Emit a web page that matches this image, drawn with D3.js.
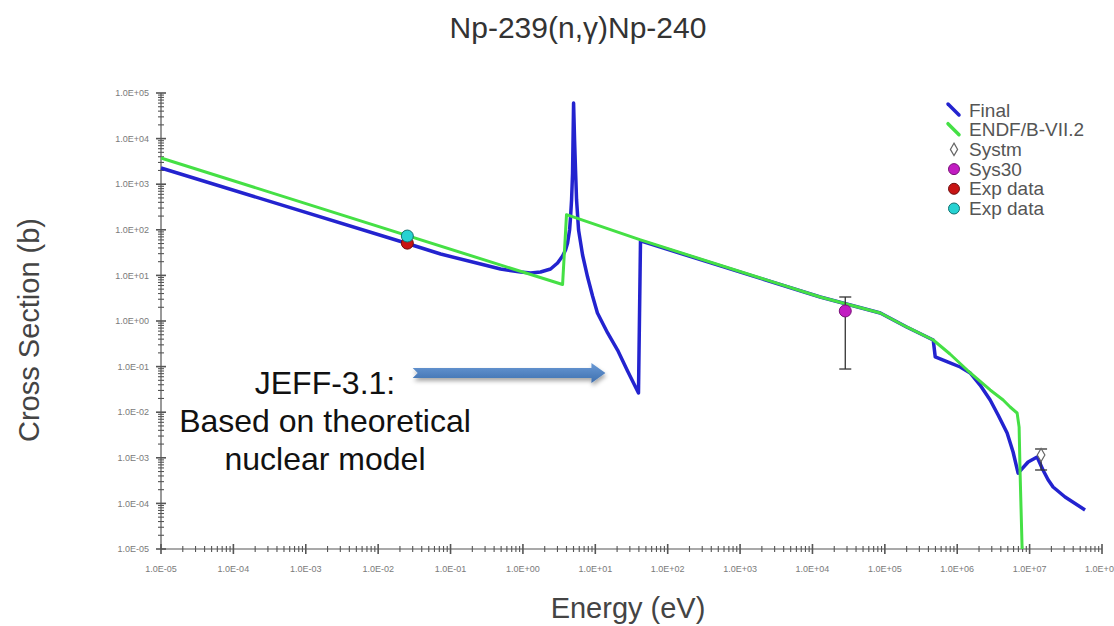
<!DOCTYPE html>
<html>
  <head>
    <meta charset="utf-8">
    <script src="https://d3js.org/d3.v7.min.js"></script>
    <title>Np-239(n,g)Np-240</title>
    <style>
      body { margin: 0px; background: #fff; }
      .tick-label { fill: #7a7a7a; font-size: 9px; font-family: "Liberation Sans", Arial, sans-serif; }
      .axis-label { fill: #444; font-size: 29px; font-family: "Liberation Sans", Arial, sans-serif; }
      .title { fill: #333; font-size: 30px; font-family: "Liberation Sans", Arial, sans-serif; }
      .legend text { fill: #555; font-size: 19px; font-family: "Liberation Sans", Arial, sans-serif; }
      .note { fill: #111; font-size: 32px; font-family: "Liberation Sans", Arial, sans-serif; }
    </style>
  </head>
  <body>
    <svg width="1114" height="626"></svg>
    <script>
      // Final evaluation (blue)
      const finalE  = [1e-5, 0.024, 0.073, 0.26, 0.49, 0.93, 1.28, 1.75, 2.41, 3.01, 3.53, 3.88, 4.14, 4.41, 4.55, 4.70, 4.85, 5.01,
                       5.17, 5.33, 5.51, 5.87, 6.67, 7.82, 9.16, 10.7, 14.8, 20.3, 27.9, 39.5,
                       42.1, 1.28e4, 8.65e4, 2.0e5, 4.66e5, 4.97e5, 7.5e5, 1.10e6, 1.51e6, 2.07e6, 2.85e6, 3.67e6, 4.89e6, 5.91e6, 6.93e6,
                       9.53e6, 1.27e7, 1.53e7, 1.80e7, 2.11e7, 3.09e7, 5.83e7];
      const finalXS = [2265, 51.4, 29.4, 17.8, 13.8, 11.9, 11.3, 11.9, 13.8, 18.7, 26.6, 36, 51.4, 99, 190, 451, 1762, 6.0e4,
                       9300, 2040, 451, 99, 28, 9.2, 3.53, 1.50, 0.546, 0.231, 0.080, 0.0264,
                       57, 3.36, 1.5, 0.74, 0.383, 0.163, 0.125, 0.098, 0.0724, 0.0394, 0.0185, 0.0087, 0.0035, 1.34e-3, 4.6e-4,
                       8.1e-4, 1.04e-3, 5.4e-4, 3.3e-4, 2.29e-4, 1.38e-4, 7.17e-5];

      // ENDF/B-VII.2 (green)
      const endfE  = [1e-5, 3.53, 4.0, 42.1, 1.28e4, 8.65e4, 2.0e5, 4.66e5, 7.94e5, 1.37e6, 2.85e6, 4.31e6, 5.38e6, 6.72e6, 7.16e6, 7.39e6, 7.88e6];
      const endfXS = [3760, 6.3, 215, 60, 3.36, 1.5, 0.74, 0.383, 0.189, 0.0841, 0.0307, 0.0185, 0.0130, 0.0096, 0.0047, 4.6e-4, 1e-5];

      // point data: [energy, xs, errLow, errHigh]
      const systm = [[1.44e7, 1.15e-3, 5.4e-4, 1.56e-3]];
      const sys30 = [[2.84e4, 1.66, 0.0885, 3.36]];
      const expRed = [[0.0253, 51]];
      const expCyan = [[0.0253, 73]];

      const legendLabels = ['Final', 'ENDF/B-VII.2', 'Systm', 'Sys30', 'Exp data', 'Exp data'];
      const noteLines = ['JEFF-3.1:', 'Based on theoretical', 'nuclear model'];
      const arrowFrom = [0.030, 0.0724], arrowTo = [13.8, 0.0724];

      const svg = d3.select('svg');
      const blue = '#2323cf', green = '#45e045';

      const x = d3.scaleLog().domain([1e-5, 1e8]).range([161, 1102]);
      const y = d3.scaleLog().domain([1e-5, 1e5]).range([549, 93]);

      const fmt = d => {
        const e = Math.round(Math.log10(d));
        return '1.0E' + (e < 0 ? '-' : '+') + String(Math.abs(e)).padStart(2, '0');
      };
      const decadeTicks = (lo, hi) => {
        const t = [];
        for (let e = lo; e < hi; e++) for (let m = 1; m < 10; m++) t.push({ v: m * Math.pow(10, e), major: m === 1 });
        t.push({ v: Math.pow(10, hi), major: true });
        return t;
      };

      // axes
      const axes = svg.append('g').attr('stroke', '#555');
      axes.append('line').attr('x1', x(1e-5)).attr('x2', x(1e-5)).attr('y1', y(1e5)).attr('y2', y(1e-5)).attr('stroke-width', 1.2);
      axes.append('line').attr('x1', x(1e-5)).attr('x2', x(1e8)).attr('y1', y(1e-5)).attr('y2', y(1e-5)).attr('stroke-width', 1.2);

      const yt = decadeTicks(-5, 5);
      axes.selectAll('.ytick').data(yt).join('line')
          .attr('x1', d => x(1e-5) - (d.major ? 5 : 3))
          .attr('x2', d => x(1e-5) + (d.major ? 5 : 3))
          .attr('y1', d => y(d.v)).attr('y2', d => y(d.v))
          .attr('stroke-width', d => d.major ? 1.6 : 1.1);
      svg.selectAll('.ylab').data(yt.filter(d => d.major)).join('text')
          .attr('class', 'tick-label')
          .attr('x', x(1e-5) - 12).attr('y', d => y(d.v)).attr('dy', '0.35em')
          .attr('text-anchor', 'end').text(d => fmt(d.v));

      const xt = decadeTicks(-5, 8);
      axes.selectAll('.xtick').data(xt).join('line')
          .attr('x1', d => x(d.v)).attr('x2', d => x(d.v))
          .attr('y1', d => y(1e-5) - (d.major ? 5 : 3))
          .attr('y2', d => y(1e-5) + (d.major ? 5 : 3))
          .attr('stroke-width', d => d.major ? 1.6 : 1.1);
      svg.selectAll('.xlab').data(xt.filter(d => d.major)).join('text')
          .attr('class', 'tick-label')
          .attr('x', d => x(d.v)).attr('y', y(1e-5) + 23)
          .attr('text-anchor', 'middle').text(d => fmt(d.v));

      // curves
      const line = d3.line().x(d => x(d[0])).y(d => y(d[1]));
      svg.append('path').datum(d3.zip(finalE, finalXS))
          .attr('d', line)
          .attr('fill', 'none').attr('stroke', blue).attr('stroke-width', 3.5).attr('stroke-linejoin', 'round');
      svg.append('path').datum(d3.zip(endfE, endfXS))
          .attr('d', line)
          .attr('fill', 'none').attr('stroke', green).attr('stroke-width', 3).attr('stroke-linejoin', 'round');

      // error bars
      const errG = svg.append('g').attr('stroke', '#333').attr('stroke-width', 1.3);
      [...sys30, ...systm].forEach(d => {
        errG.append('line').attr('x1', x(d[0])).attr('x2', x(d[0])).attr('y1', y(d[2])).attr('y2', y(d[3]));
        errG.append('line').attr('x1', x(d[0]) - 6).attr('x2', x(d[0]) + 6).attr('y1', y(d[2])).attr('y2', y(d[2]));
        errG.append('line').attr('x1', x(d[0]) - 6).attr('x2', x(d[0]) + 6).attr('y1', y(d[3])).attr('y2', y(d[3]));
      });

      // points
      svg.selectAll('.systm').data(systm).join('path')
          .attr('transform', d => `translate(${x(d[0])},${y(d[1])})`)
          .attr('d', d3.symbol().type(d3.symbolDiamond).size(50))
          .attr('fill', '#fff').attr('stroke', '#666').attr('stroke-width', 1.2);
      svg.selectAll('.sys30').data(sys30).join('circle')
          .attr('cx', d => x(d[0])).attr('cy', d => y(d[1])).attr('r', 6)
          .attr('fill', '#c21cc2').attr('stroke', '#7a107a');
      svg.selectAll('.expRed').data(expRed).join('circle')
          .attr('cx', d => x(d[0])).attr('cy', d => y(d[1])).attr('r', 6)
          .attr('fill', '#c81414').attr('stroke', '#701010');
      svg.selectAll('.expCyan').data(expCyan).join('circle')
          .attr('cx', d => x(d[0])).attr('cy', d => y(d[1])).attr('r', 6)
          .attr('fill', '#25d2d2').attr('stroke', '#157070');

      // legend
      const legend = svg.append('g').attr('class', 'legend').attr('transform', 'translate(954,110)');
      const rowH = 19.7;
      legend.selectAll('text').data(legendLabels).join('text')
          .attr('x', 15).attr('y', (d, i) => i * rowH).attr('dy', '0.35em').text(d => d);
      [blue, green].forEach((c, i) => {
        legend.append('line').attr('x1', -6).attr('y1', i * rowH - 6).attr('x2', 5).attr('y2', i * rowH + 5)
            .attr('stroke', c).attr('stroke-width', 3.5).attr('stroke-linecap', 'round');
      });
      legend.append('path').attr('transform', `translate(0,${2 * rowH})`)
          .attr('d', d3.symbol().type(d3.symbolDiamond).size(45))
          .attr('fill', '#fff').attr('stroke', '#666').attr('stroke-width', 1.2);
      [['#c21cc2', '#7a107a'], ['#c81414', '#701010'], ['#25d2d2', '#157070']].forEach((c, i) => {
        legend.append('circle').attr('cx', 0).attr('cy', (i + 3) * rowH).attr('r', 5.5)
            .attr('fill', c[0]).attr('stroke', c[1]);
      });

      // titles
      svg.append('text').attr('class', 'title').attr('x', 578).attr('y', 38)
          .attr('text-anchor', 'middle').text('Np-239(n,γ)Np-240');
      svg.append('text').attr('class', 'axis-label').attr('x', 628).attr('y', 618)
          .attr('text-anchor', 'middle').text('Energy (eV)');
      svg.append('text').attr('class', 'axis-label')
          .attr('transform', 'translate(39,330) rotate(-90)')
          .attr('text-anchor', 'middle').text('Cross Section (b)');

      // annotation
      svg.selectAll('.note').data(noteLines).join('text')
          .attr('class', 'note').attr('x', 325).attr('y', (d, i) => 394 + i * 38)
          .attr('text-anchor', 'middle').text(d => d);

      const defs = svg.append('defs');
      const grad = defs.append('linearGradient').attr('id', 'arrowGrad').attr('x1', 0).attr('y1', 0).attr('x2', 0).attr('y2', 1);
      grad.append('stop').attr('offset', '0%').attr('stop-color', '#6a9ad6');
      grad.append('stop').attr('offset', '100%').attr('stop-color', '#3e6fae');
      defs.append('filter').attr('id', 'shadow').attr('x', '-10%').attr('y', '-50%').attr('width', '120%').attr('height', '250%')
          .append('feDropShadow').attr('dx', 1).attr('dy', 3).attr('stdDeviation', 2).attr('flood-color', '#000').attr('flood-opacity', 0.35);

      const ax0 = x(arrowFrom[0]), ax1 = x(arrowTo[0]), ay = y(arrowFrom[1]);
      const arrowPts = [[ax0, ay - 5], [ax1 - 14, ay - 5], [ax1 - 14, ay - 10], [ax1, ay], [ax1 - 14, ay + 10],
                        [ax1 - 14, ay + 5], [ax0, ay + 5], [ax0 + 5, ay]];
      svg.append('path').attr('d', d3.line()(arrowPts) + 'Z')
          .attr('fill', 'url(#arrowGrad)').attr('filter', 'url(#shadow)');
    </script>
  </body>
</html>
